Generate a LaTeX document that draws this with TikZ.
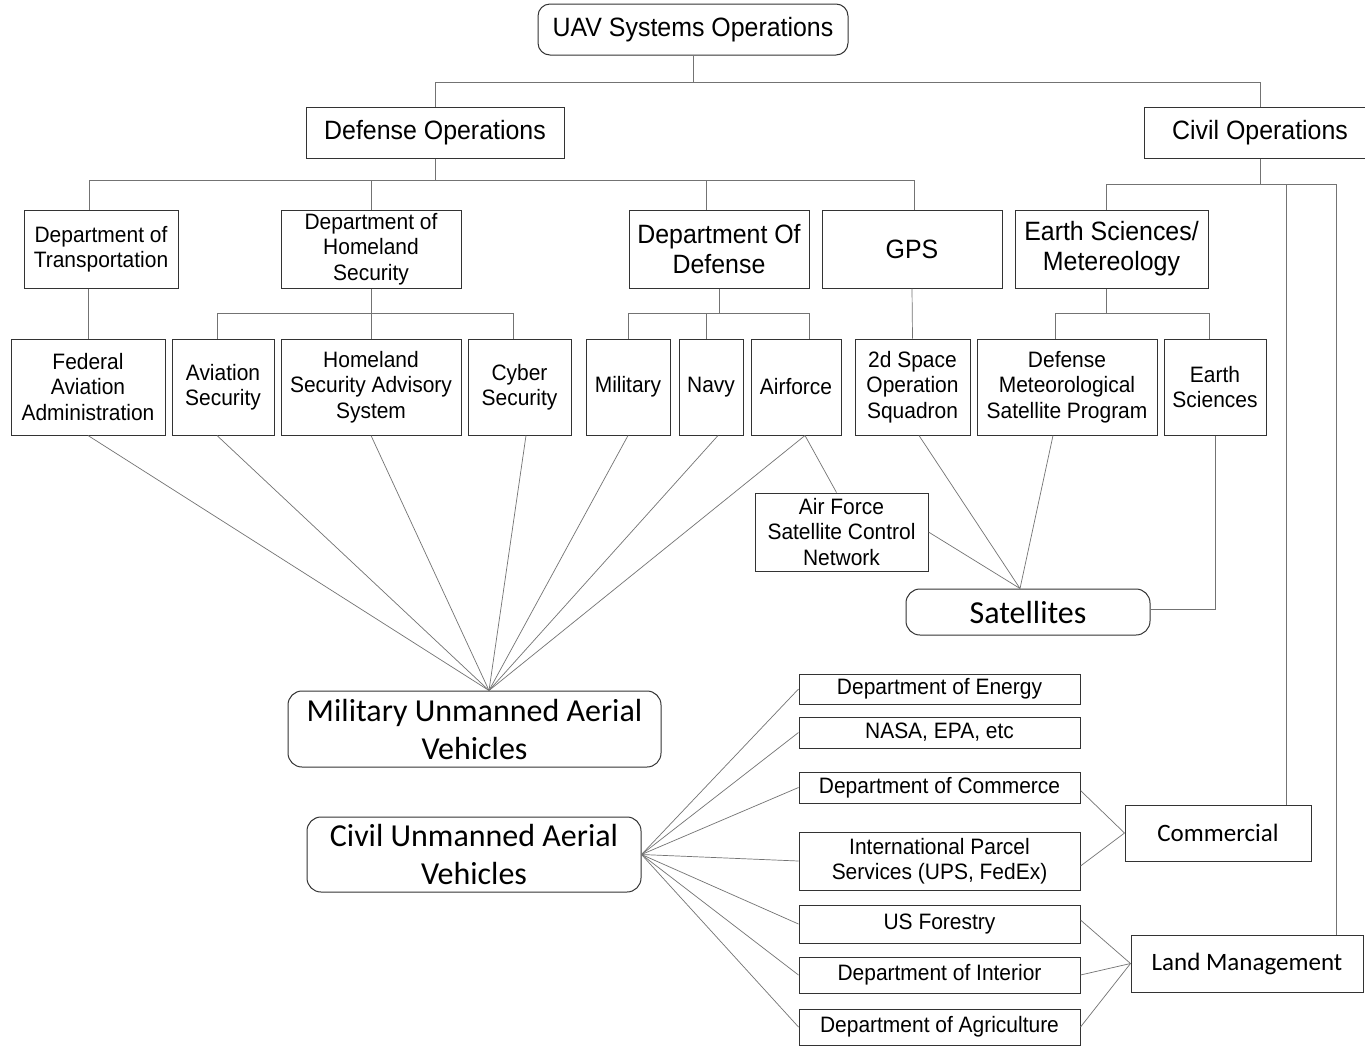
\documentclass[tikz,border=0pt]{standalone}
\usepackage{fontspec}
\usetikzlibrary{calc}
\setmainfont{Liberation Sans}[FakeStretch=0.94]
\newfontfamily\calfont{Carlito}
\begin{document}
\begin{tikzpicture}[x=1pt,y=-1pt,
  box/.style={draw=black!80, line width=1pt, inner sep=0pt, align=center,
              font=\fontsize{22.3}{25.5}\selectfont},
  rbox/.style={box, rounded corners=14pt},
  big/.style={font=\fontsize{26.5}{30}\selectfont},
  cal/.style={font=\calfont\fontsize{32}{38}\selectfont},
  calm/.style={font=\calfont\fontsize{25}{30}\selectfont},
  conn/.style={draw=black!55, line width=0.7pt}]
\clip (0,0) rectangle (1365,1045);
\fill[white] (0,0) rectangle (1365,1045);

% top levels
\node[rbox, big, rounded corners=12pt, minimum width=310, minimum height=51] (uav) at (693,29.5) {UAV Systems Operations};
\node[box, big, minimum width=258, minimum height=51] (defops) at (435,132.5) {Defense Operations};
\node[box, big, minimum width=232, minimum height=51] (civops) at (1260,132.5) {Civil Operations};

% second level
\node[box, minimum width=154, minimum height=78] (dot) at (101,249) {Department of\\Transportation};
\node[box, minimum width=180, minimum height=78] (dhs) at (371,249) {Department of\\Homeland\\Security};
\node[box, big, minimum width=180, minimum height=78] (dod) at (719,249) {Department Of\\Defense};
\node[box, big, minimum width=180, minimum height=78] (gps) at (912,249) {GPS};
\node[box, big, minimum width=193, minimum height=78] (esm) at (1111.5,249) {Earth Sciences/\\Metereology};

% third level
\node[box, minimum width=154, minimum height=96] (faa) at (88,387) {Federal\\Aviation\\Administration};
\node[box, minimum width=102, minimum height=96] (avsec) at (223,387) {Aviation\\Security};
\node[box, minimum width=180, minimum height=96] (hsas) at (371,387) {Homeland\\Security Advisory\\System};
\node[box, minimum width=103, minimum height=96] (cyber) at (519.5,387) {Cyber\\Security};
\node[box, minimum width=84, minimum height=96] (mil) at (628,387) {Military};
\node[box, minimum width=64, minimum height=96] (navy) at (711,387) {Navy};
\node[box, minimum width=90, minimum height=96] (airf) at (796,387) {Airforce};
\node[box, minimum width=115, minimum height=96] (space) at (912.5,387) {2d Space\\Operation\\Squadron};
\node[box, minimum width=180, minimum height=96] (dmsp) at (1067,387) {Defense\\Meteorological\\Satellite Program};
\node[box, minimum width=102, minimum height=96] (earth) at (1215,387) {Earth\\Sciences};

\node[box, minimum width=173, minimum height=78] (afscn) at (841.5,532) {Air Force\\Satellite Control\\Network};
\node[rbox, cal, minimum width=244, minimum height=46] (sat) at (1028,612) {Satellites};

\node[rbox, cal, minimum width=373, minimum height=76] (muav) at (474.5,729) {Military Unmanned Aerial\\Vehicles};
\node[rbox, cal, minimum width=334, minimum height=75] (cuav) at (474,854.5) {Civil Unmanned Aerial\\Vehicles};

% civil agencies
\node[box, minimum width=281, minimum height=30] (energy) at (939.5,689) {Department of Energy};
\node[box, minimum width=281, minimum height=31] (nasa) at (939.5,732.5) {NASA, EPA, etc};
\node[box, minimum width=281, minimum height=31] (commerce) at (939.5,787.5) {Department of Commerce};
\node[box, minimum width=281, minimum height=58] (ips) at (939.5,861) {International Parcel\\Services (UPS, FedEx)};
\node[box, minimum width=281, minimum height=38] (forestry) at (939.5,924) {US Forestry};
\node[box, minimum width=281, minimum height=36] (interior) at (939.5,975) {Department of Interior};
\node[box, minimum width=281, minimum height=36] (agri) at (939.5,1027) {Department of Agriculture};

\node[box, calm, minimum width=186, minimum height=56] (commercial) at (1218,833) {Commercial};
\node[box, calm, minimum width=232, minimum height=57] (land) at (1247,963.5) {Land Management};

% tree connectors
\draw[conn] (uav.south) -- ++(0,27) coordinate (j0);
\draw[conn] (j0) -| (defops.north);
\draw[conn] (j0) -| (civops.north);

\draw[conn] (defops.south) -- ++(0,22) coordinate (j1);
\draw[conn] (j1) -| ([xshift=-12]dot.north);
\draw[conn] (j1) -| (dhs.north);
\draw[conn] (j1) -| ([xshift=-13]dod.north);
\draw[conn] (j1) -| ([xshift=2]gps.north);

\draw[conn] (faa.north |- dot.south) -- (faa.north);
\draw[conn] (dhs.south) -- (hsas.north);
\coordinate (j2) at ($(dhs.south)!0.5!(hsas.north)$);
\draw[conn] ([xshift=-6]avsec.north) |- (j2) -| ([xshift=-6.5]cyber.north);

\draw[conn] (dod.south) -- ++(0,25) coordinate (j3);
\draw[conn] (j3) -| (mil.north);
\draw[conn] (j3) -| ([xshift=-5]navy.north);
\draw[conn] (j3) -| ([xshift=13]airf.north);

\draw[conn] (gps.south) -- (space.north);

\draw[conn] ([xshift=-5.5]esm.south) -- ++(0,25) coordinate (j4);
\draw[conn] (j4) -| ([xshift=-12]dmsp.north);
\draw[conn] (j4) -| ([xshift=-6]earth.north);

\draw[conn] (civops.south) -- ++(0,26) coordinate (j5);
\draw[conn] (j5) -| ([xshift=-5.5]esm.north);
\draw[conn] (j5) -| ([xshift=68]commercial.north);
\draw[conn] (j5) -| ([xshift=89]land.north);

% fan to military UAV
\coordinate (mtop) at ([xshift=14.5]muav.north);
\draw[conn] (faa.south) -- (mtop);
\draw[conn] ([xshift=-6]avsec.south) -- (mtop);
\draw[conn] (hsas.south) -- (mtop);
\draw[conn] ([xshift=6.5]cyber.south) -- (mtop);
\draw[conn] (mil.south) -- (mtop);
\draw[conn] ([xshift=7]navy.south) -- (mtop);
\draw[conn] ([xshift=9]airf.south) -- (mtop);
\draw[conn] ([xshift=9]airf.south) -- ([xshift=-5]afscn.north);

% satellites
\coordinate (stop) at ([xshift=-8]sat.north);
\draw[conn] (afscn.east) -- (stop);
\draw[conn] ([xshift=6.5]space.south) -- (stop);
\draw[conn] ([xshift=-14]dmsp.south) -- (stop);
\draw[conn] (earth.south) |- ([yshift=3]sat.east);

% civil fan
\foreach \t in {energy,nasa,commerce,ips,forestry,interior,agri}
  \draw[conn] (cuav.east) -- (\t.west);

\draw[conn] ([yshift=-3]commerce.east) -- (commercial.west);
\draw[conn] ([yshift=-5]ips.east) -- (commercial.west);
\draw[conn] ([yshift=4]forestry.east) -- (land.west);
\draw[conn] (interior.east) -- (land.west);
\draw[conn] (agri.east) -- (land.west);
\end{tikzpicture}
\end{document}
